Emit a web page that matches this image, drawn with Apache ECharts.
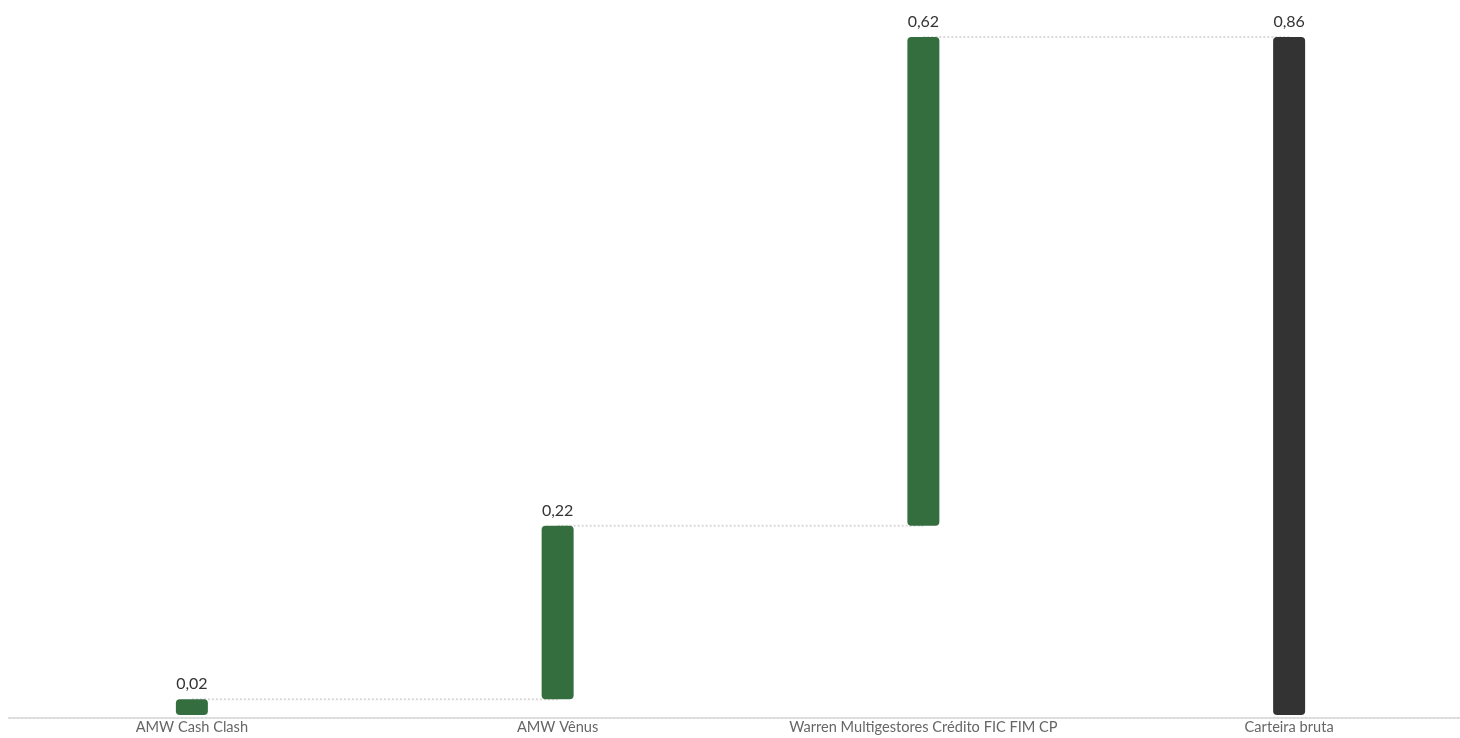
<!DOCTYPE html>
<html><head><meta charset="utf-8">
<script src="https://cdn.jsdelivr.net/npm/echarts@6/dist/echarts.min.js"></script>
<style>html,body{margin:0;padding:0;background:#fff}#c{width:1460px;height:738px}</style>
</head><body><div id="c"></div>
<script>
const categories = ['AMW Cash Clash', 'AMW Vênus', 'Warren Multigestores Crédito FIC FIM CP', 'Carteira bruta'];
const values = [0.02, 0.22, 0.62, 0.86];
const isTotal = [false, false, false, true];

const bases = [], tops = [];
let cum = 0;
values.forEach((v, i) => {
  if (isTotal[i]) { bases.push(0); tops.push(v); }
  else { bases.push(cum); cum += v; tops.push(cum); }
});
const connectors = [];
for (let i = 0; i < values.length - 1; i++) connectors.push([i, i + 1, tops[i]]);

const fmt = v => v.toFixed(2).replace('.', ',');
const chart = echarts.init(document.getElementById('c'));
chart.setOption({
  backgroundColor: '#fff',
  animation: false,
  textStyle: { fontFamily: 'Lato' },
  grid: { left: 9, width: 1463, top: 37, bottom: 23, containLabel: false, outerBoundsMode: 'none' },
  xAxis: {
    type: 'category', data: categories, offset: 3,
    axisLine: { onZero: false, lineStyle: { color: '#d9d9d9', type: [2, 2], width: 2 } },
    axisTick: { show: false },
    axisLabel: { color: '#666', fontSize: 14.6, margin: 2, fontFamily: 'Lato' }
  },
  yAxis: { type: 'value', min: 0, max: 0.86, show: false, splitLine: { show: false } },
  series: [
    {
      type: 'custom', z: 1, silent: true,
      renderItem: (params, api) => {
        const a = api.coord([api.value(0), api.value(2)]);
        const b = api.coord([api.value(1), api.value(2)]);
        return { type: 'line', shape: { x1: a[0], y1: a[1], x2: b[0], y2: b[1] },
          style: { stroke: '#d9d9d9', lineWidth: 2, lineDash: [2, 2] } };
      },
      data: connectors
    },
    {
      type: 'bar', stack: 'w', barWidth: 32, silent: true,
      itemStyle: { color: 'transparent' },
      data: bases
    },
    {
      type: 'bar', stack: 'w', barWidth: 32, z: 3,
      data: values.map((v, i) => ({
        value: v,
        itemStyle: { color: isTotal[i] ? '#333333' : '#346e3f', borderRadius: 4 }
      })),
      label: {
        show: true, position: 'top', distance: 7, color: '#333', fontSize: 16,
        fontFamily: 'Lato', formatter: p => fmt(p.value)
      }
    }
  ]
});
</script></body></html>
